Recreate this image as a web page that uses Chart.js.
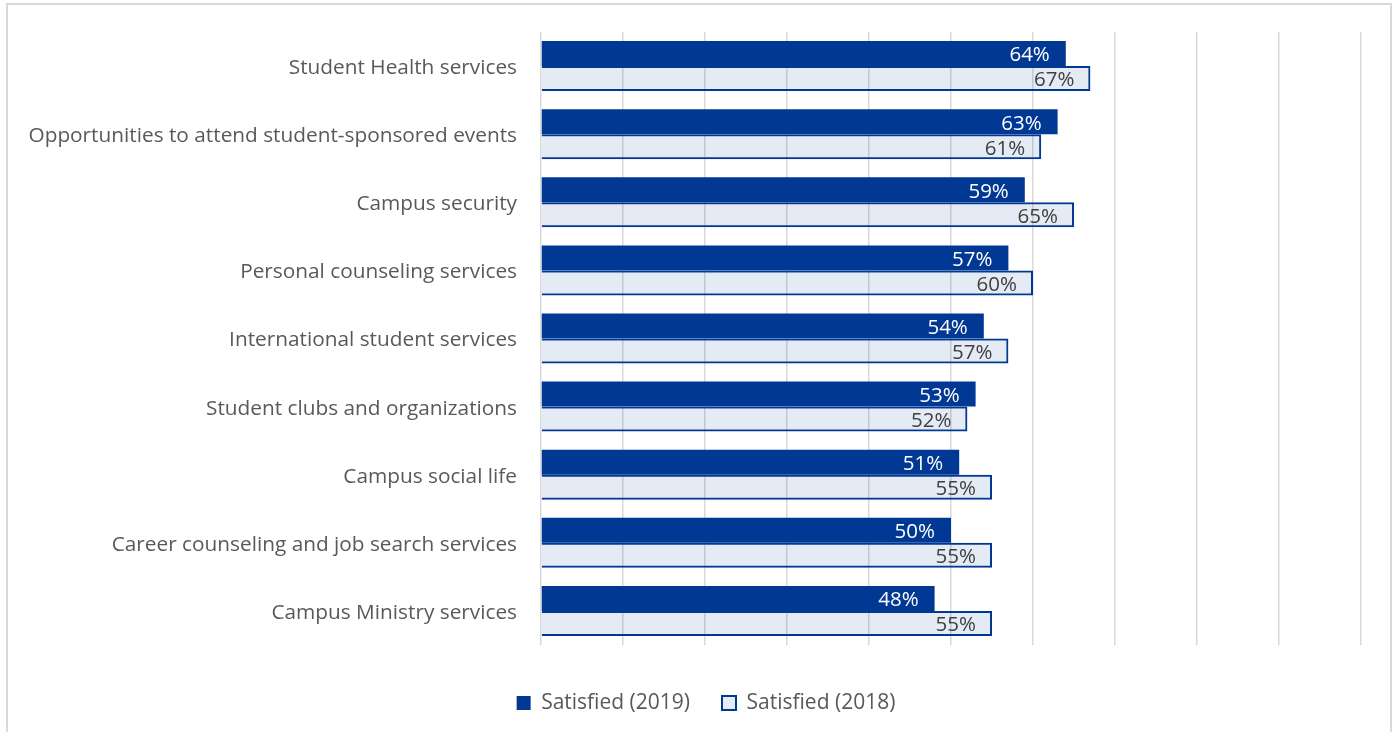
<!DOCTYPE html>
<html>
<head>
<meta charset="utf-8">
<script src="https://cdn.jsdelivr.net/npm/chart.js@4.4.1/dist/chart.umd.min.js"></script>
<style>
  html, body { margin: 0; padding: 0; background: #fff; overflow: hidden; }
  #wrap { position: relative; width: 1396px; height: 732px; }
  #frame {
    position: absolute; left: 6px; top: 3px; width: 1386px; height: 800px;
    border: 2px solid #d9d9d9; box-sizing: border-box;
  }
  #chart { position: absolute; left: 0; top: 0; }
</style>
</head>
<body>
<div id="wrap">
  <div id="frame"></div>
  <canvas id="chart" width="1396" height="732"></canvas>
</div>
<script>
// survey items, top to bottom
const categories = [
  "Student Health services",
  "Opportunities to attend student-sponsored events",
  "Campus security",
  "Personal counseling services",
  "International student services",
  "Student clubs and organizations",
  "Campus social life",
  "Career counseling and job search services",
  "Campus Ministry services"
];
const satisfied2019 = [64, 63, 59, 57, 54, 53, 51, 50, 48];
const satisfied2018 = [67, 61, 65, 60, 57, 52, 55, 55, 55];
const seriesNames = ["Satisfied (2019)", "Satisfied (2018)"];

const DARK = "#003893";
const FONT = "'Open Sans', sans-serif";

// value labels drawn just inside the end of each bar
const barLabels = {
  id: "barLabels",
  afterDatasetsDraw(chart) {
    const ctx = chart.ctx;
    ctx.save();
    ctx.font = "20.5px " + FONT;
    ctx.textAlign = "right";
    ctx.textBaseline = "middle";
    chart.data.datasets.forEach((ds, i) => {
      const meta = chart.getDatasetMeta(i);
      ctx.fillStyle = i === 0 ? "#ffffff" : "#404040";
      meta.data.forEach((bar, j) => {
        ctx.fillText(ds.data[j] + "%", bar.x - 16, bar.y + 2);
      });
    });
    ctx.restore();
  }
};

// nudge the legend so it sits centred under the plot rather than the canvas
const legendShift = {
  id: "legendShift",
  afterLayout(chart) {
    const lg = chart.legend;
    if (!lg) return;
    lg.left += 25.5;
    lg.right += 25.5;
    lg.top += 2;
    lg.bottom += 2;
  }
};

new Chart(document.getElementById("chart"), {
  type: "bar",
  data: {
    labels: categories,
    datasets: [
      {
        label: seriesNames[0],
        data: satisfied2019,
        backgroundColor: DARK,
        borderWidth: 0,
        barPercentage: 1.0,
        categoryPercentage: 0.734
      },
      {
        label: seriesNames[1],
        data: satisfied2018,
        backgroundColor: "rgba(0, 56, 147, 0.1)",
        borderColor: DARK,
        borderWidth: 2,
        barPercentage: 1.0,
        categoryPercentage: 0.734
      }
    ]
  },
  options: {
    indexAxis: "y",
    responsive: false,
    animation: false,
    layout: { padding: { top: 32, left: 0, right: 35, bottom: 10.5 } },
    scales: {
      x: {
        min: 0,
        max: 100,
        ticks: { display: false, stepSize: 10 },
        grid: {
          color: "#d9d9d9",
          lineWidth: 1.5,
          drawTicks: true,
          tickLength: 13.5,
          tickColor: "rgba(0,0,0,0)"
        },
        border: { display: false }
      },
      y: {
        grid: { display: false, drawTicks: false },
        border: { display: false },
        ticks: {
          color: "#595959",
          padding: 24,
          labelOffset: 2,
          font: { family: FONT, size: 20.8 }
        },
        afterFit(scale) {
          scale.width = 541;
          scale.paddingTop = 0;
          scale.paddingBottom = 0;
        }
      }
    },
    plugins: {
      legend: {
        position: "bottom",
        labels: {
          color: "#595959",
          boxWidth: 14,
          boxHeight: 14,
          padding: 32,
          font: { family: FONT, size: 21 }
        }
      },
      tooltip: { enabled: false }
    }
  },
  plugins: [barLabels, legendShift]
});
</script>
</body>
</html>
